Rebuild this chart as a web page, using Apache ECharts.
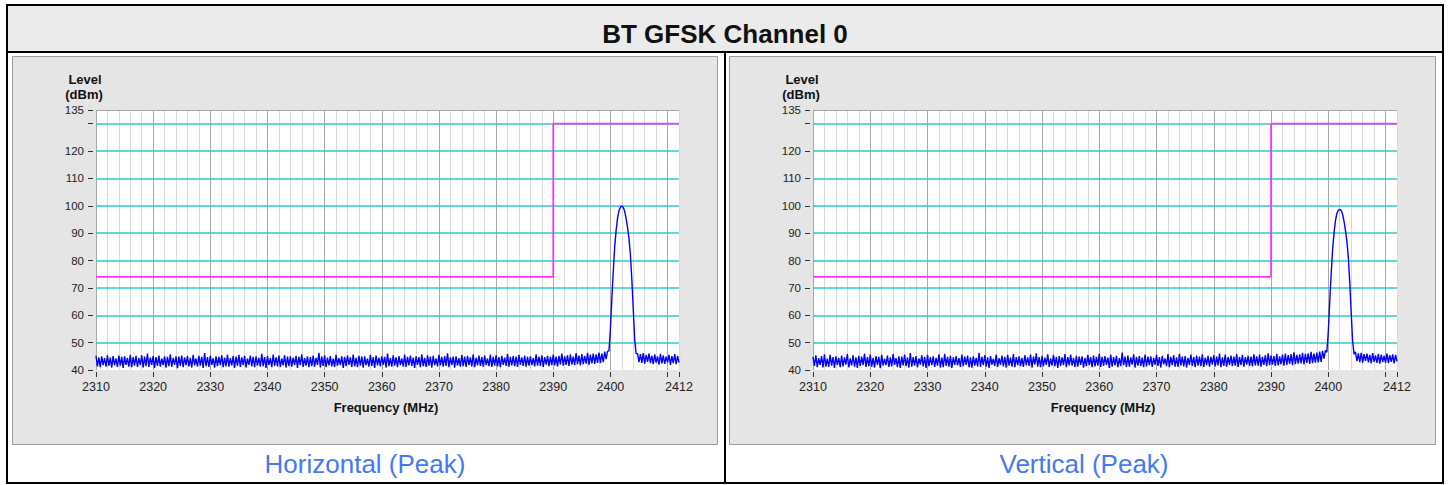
<!DOCTYPE html>
<html>
<head>
<meta charset="utf-8">
<script src="https://cdn.jsdelivr.net/npm/echarts@6/dist/echarts.min.js"></script>
<style>
html,body{margin:0;padding:0;background:#fff;}
#chart{width:1451px;height:485px;}
</style>
</head>
<body>
<div id="chart"></div>
<script>
// ---------- DATA ----------
const titleText = 'BT GFSK Channel 0';
const captions = ['Horizontal (Peak)', 'Vertical (Peak)'];
const yAxisTitle = ['Level', '(dBm)'];
const xAxisTitle = 'Frequency (MHz)';
const freqStart = 2310;      // MHz, sweep start
const freqStep = 0.25;       // MHz, sweep step
const xMin = 2310, xMax = 2412, xMajor = 10, xMinor = 2;
const yMin = 40, yMax = 135, yStep = 10;

// limit line (dBm)
const limitFreq = [2310, 2390, 2390, 2412];
const limitLevel = [74, 74, 130, 130];

// Horizontal trace: noise 2310.00-2399.50, peak 2399.75-2404.50, noise 2404.75-2412.00
const hNoiseLow = [
45.2,41.3,44.6,41.0,45.0,41.8,44.3,41.2,45.4,41.5,
44.5,40.9,45.1,41.7,44.2,41.1,45.3,41.6,44.8,40.8,
45.0,41.9,44.4,41.2,45.5,41.0,44.7,41.6,45.2,41.1,
44.3,41.8,45.4,40.9,44.9,41.4,46.0,41.1,44.5,41.9,
45.1,40.8,44.7,41.5,45.3,41.2,44.2,41.8,45.0,40.9,
44.8,41.4,45.7,41.1,44.4,41.9,45.0,40.7,44.9,41.5,
45.3,41.0,44.6,41.8,45.1,41.3,44.4,40.9,45.5,41.7,
44.2,41.2,45.2,41.6,44.8,40.8,46.2,41.4,44.7,41.1,
45.2,41.9,44.3,40.9,45.0,41.4,44.8,41.8,45.4,41.0,
44.5,41.3,45.6,41.2,44.3,41.7,45.1,40.8,44.9,41.5,
45.5,41.1,44.6,41.8,45.2,40.9,44.2,41.9,45.3,41.3,
44.8,41.0,45.0,41.6,44.4,41.2,45.9,41.4,44.7,40.8,
45.1,41.9,44.3,41.0,45.6,41.5,44.6,41.3,45.3,41.1,
44.2,41.7,45.4,40.9,44.9,41.4,45.0,41.2,44.5,41.8,
45.2,40.8,44.8,41.8,45.7,41.1,44.3,41.6,45.0,41.0,
44.7,41.4,45.3,41.2,44.4,41.9,46.3,40.9,44.9,41.5,
45.4,41.0,44.5,41.7,45.1,41.3,44.2,41.1,45.5,41.6,
44.3,41.8,45.0,40.8,44.8,41.4,45.3,41.9,44.6,41.1,
45.6,41.3,44.4,41.0,45.2,41.6,44.9,40.9,45.0,41.8,
44.2,41.2,45.5,41.5,44.7,40.8,45.3,41.7,44.5,41.3,
45.0,41.9,44.8,40.9,46.0,41.4,44.3,41.2,45.4,41.6,
44.6,41.0,45.1,41.8,44.2,41.3,45.6,41.1,44.8,41.7,
45.3,41.5,44.5,40.8,45.0,41.9,44.7,41.0,45.7,41.4,
44.4,41.1,45.4,41.6,44.9,40.9,45.2,41.8,44.2,41.3,
45.5,41.7,44.8,41.2,45.1,41.5,46.1,41.0,44.6,41.9,
44.9,40.9,45.0,41.6,44.3,41.2,45.5,41.4,44.9,41.1,
45.2,41.8,44.6,41.3,45.7,41.0,44.4,41.7,45.3,41.5,
44.7,41.2,45.3,41.8,44.2,41.4,45.6,41.1,44.8,41.6,
45.4,41.3,44.7,41.0,45.2,41.9,44.5,41.5,45.9,41.2,
44.8,41.7,45.1,41.4,44.9,41.1,45.5,41.9,44.6,41.5,
45.3,41.2,44.8,41.6,45.0,41.8,44.3,41.3,45.7,41.6,
44.9,41.5,45.4,41.1,44.7,42.0,45.2,41.4,44.8,41.8,
45.6,41.7,44.9,41.3,45.2,42.0,46.0,41.6,45.0,41.9,
45.4,41.5,45.7,42.0,44.9,41.8,46.2,42.1,45.3,41.7,
45.8,42.1,45.2,42.3,46.3,41.9,45.6,42.4,46.0,42.2,
45.7,42.6,46.4,42.5,46.0,42.9,46.7,44.0,46.8
];
const hPeak = [47,55,66,76,85,91,95.5,98.2,99.5,99.9,99.4,98.0,95.3,92,88,82,73,62,51,46];
const hNoiseHigh = [
46.0,42.9,45.8,42.6,46.2,42.3,45.5,43.0,46.0,42.5,
45.2,42.1,45.7,42.7,45.0,42.0,45.9,42.4,45.3,42.2,
44.9,42.8,45.5,41.9,45.1,42.5,45.8,42.1,45.2,42.7
];

// Vertical trace
const vNoiseLow = [
44.8,41.5,45.4,41.0,44.3,41.9,45.1,40.9,45.7,41.2,
44.2,41.1,45.5,41.6,44.7,40.8,45.0,41.9,44.4,41.0,
45.3,41.3,44.6,42.0,45.8,41.0,44.2,41.7,45.4,41.2,
44.6,40.8,45.2,41.5,44.9,41.8,46.0,41.1,44.7,41.4,
45.6,41.2,44.4,40.9,45.1,41.9,44.8,40.7,45.5,41.6,
44.1,41.8,45.3,41.1,44.6,41.3,45.8,41.9,44.3,41.0,
45.0,40.8,44.9,41.7,45.6,41.4,44.5,40.9,46.2,41.2,
44.7,41.6,45.1,41.0,44.2,42.0,45.4,41.3,44.8,40.8,
45.5,41.4,44.7,41.8,45.0,41.1,44.4,41.6,45.7,40.9,
44.5,41.0,45.9,41.5,44.8,41.2,45.2,40.8,44.6,41.9,
45.1,41.7,44.3,41.1,45.6,41.4,44.9,41.9,45.3,41.0,
44.6,40.9,45.0,41.6,44.4,41.3,46.3,41.1,44.8,41.8,
45.4,41.2,44.6,40.8,45.1,42.0,44.1,41.5,45.6,41.1,
44.3,41.9,45.3,41.3,44.8,40.9,45.5,41.6,44.5,41.2,
45.8,41.0,44.7,41.8,45.0,41.4,44.4,41.1,45.4,41.7,
44.6,41.5,45.6,40.9,44.9,42.0,46.1,41.2,44.7,41.0,
45.2,41.3,44.5,41.9,45.7,41.1,44.2,41.6,45.5,41.4,
44.8,40.8,45.1,41.5,44.6,41.8,45.8,41.0,44.7,41.7,
45.6,41.6,44.4,41.1,45.2,41.2,44.9,41.9,45.0,40.9,
44.4,41.4,45.5,41.8,44.7,41.0,45.3,41.3,44.8,41.6,
45.9,41.1,44.8,41.5,45.1,41.9,44.5,40.8,45.6,41.2,
44.7,41.7,45.2,41.0,44.3,41.4,46.4,41.8,44.9,41.1,
45.3,41.2,44.6,42.0,45.7,40.9,44.8,41.6,45.1,41.5,
44.5,41.0,45.6,41.3,44.9,41.8,45.0,41.1,44.4,41.9,
45.5,41.5,44.7,40.9,45.2,42.1,44.2,41.4,45.8,41.0,
44.8,41.8,45.4,41.2,44.6,41.1,45.9,41.7,44.9,41.3,
45.1,40.9,44.4,41.9,45.6,41.5,44.7,41.0,45.3,41.6,
44.9,41.4,45.7,41.1,44.5,41.8,45.2,41.2,44.8,42.0,
45.4,41.3,44.9,41.7,46.0,41.0,44.6,41.5,45.6,41.2,
44.7,41.9,45.3,41.4,44.9,41.6,45.8,41.1,44.8,41.8,
45.5,41.2,44.7,42.0,45.2,41.5,44.9,41.3,45.7,41.7,
45.0,41.6,45.6,41.2,44.8,41.9,45.4,41.4,46.1,41.8,
45.3,42.0,45.1,41.5,45.9,41.7,45.0,42.1,45.6,41.6,
46.0,41.9,45.4,42.2,45.8,41.8,46.5,42.1,45.5,42.3,
45.7,42.4,46.3,42.0,45.9,42.6,46.1,42.2,46.6,42.5,
46.0,42.7,46.4,42.8,46.7,43.0,47.0,44.2,47.2
];
const vPeak = [46.5,54,65,75,84,90,94.5,97.2,98.4,98.7,98.3,96.9,94.3,91,87,81,72,61,50.5,45.8];
const vNoiseHigh = [
46.6,43.2,46.1,42.9,46.3,42.7,45.8,43.3,46.0,42.8,
45.5,42.4,46.2,43.0,45.3,42.6,45.9,42.3,45.6,42.9,
45.2,42.7,46.0,42.5,45.4,43.0,45.7,42.4,45.5,43.1
];

// ---------- BUILD ----------
const FONT = '"Liberation Sans", Arial, Helvetica, sans-serif';
function toPairs(levels) {
  return levels.map((v, i) => [freqStart + i * freqStep, v]);
}
const traces = [
  toPairs(hNoiseLow.concat(hPeak, hNoiseHigh)),
  toPairs(vNoiseLow.concat(vPeak, vNoiseHigh))
];
const limitData = limitFreq.map((f, i) => [f, limitLevel[i]]);

const grids = [
  {left: 96, top: 110, width: 583, height: 260},
  {left: 813, top: 110, width: 584, height: 260}
];
const panelRects = [
  {x: 12.5, y: 56.5, w: 705, h: 388},
  {x: 729.5, y: 56.5, w: 706, h: 388}
];

const xAxes = [], yAxes = [], series = [], graphics = [];
grids.forEach((g, gi) => {
  xAxes.push({
    type: 'value', gridIndex: gi, min: xMin, max: xMax, interval: xMajor,
    position: 'bottom', offset: 2, z: 1,
    axisLine: {show: false},
    axisTick: {show: true, length: 5, lineStyle: {color: '#333', width: 1}},
    axisLabel: {
      show: true, margin: 8, fontSize: 12.5, color: '#222', fontFamily: FONT,
      showMinLabel: true, showMaxLabel: true,
      formatter: v => (v === 2410 ? '' : String(v))
    },
    splitLine: {show: true, showMinLine: true, showMaxLine: false,
      lineStyle: {color: '#a9a9a9', width: 1}}
  });
  xAxes.push({
    type: 'value', gridIndex: gi, min: xMin, max: xMax, interval: xMinor,
    position: 'top', z: 0,
    axisLine: {show: false}, axisTick: {show: false}, axisLabel: {show: false},
    splitLine: {show: true, showMinLine: false, showMaxLine: true,
      lineStyle: {color: '#dadada', width: 1}}
  });
  yAxes.push({
    type: 'value', gridIndex: gi, min: yMin, max: yMax, interval: yStep,
    position: 'left', offset: 3, z: 2,
    axisLine: {show: false},
    axisTick: {show: true, length: 5, lineStyle: {color: '#333', width: 1}},
    axisLabel: {
      show: true, margin: 9, fontSize: 11.5, color: '#222', fontFamily: FONT,
      showMinLabel: true, showMaxLabel: true,
      formatter: v => (v === 130 ? '' : String(v))
    },
    splitLine: {show: true, showMinLine: false, showMaxLine: false,
      lineStyle: {color: '#2ccaca', width: 1.5}}
  });
  series.push({
    type: 'line', xAxisIndex: gi * 2, yAxisIndex: gi, data: limitData,
    symbol: 'none', z: 3, silent: true, animation: false,
    lineStyle: {color: '#ff33ff', width: 1.8},
    markLine: {
      silent: true, symbol: 'none', label: {show: false}, animation: false,
      lineStyle: {color: '#a6a6a6', type: 'solid', width: 1},
      data: [{yAxis: yMax}]
    }
  });
  series.push({
    type: 'line', xAxisIndex: gi * 2, yAxisIndex: gi, data: traces[gi],
    symbol: 'none', z: 4, silent: true, animation: false, sampling: null,
    lineStyle: {color: '#0000ff', width: 1.4}
  });

  const p = panelRects[gi];
  graphics.push({type: 'rect', z: -10, silent: true,
    shape: {x: p.x, y: p.y, width: p.w, height: p.h},
    style: {fill: '#e5e5e5', stroke: '#9c9c9c', lineWidth: 1}});
  const dx = gi === 0 ? 0 : 717;
  graphics.push({type: 'text', z: 10, x: 85 + dx, y: 79, silent: true,
    style: {text: yAxisTitle[0], fontSize: 13, fontWeight: 'bold', fontFamily: FONT,
      fill: '#111', align: 'center', verticalAlign: 'middle'}});
  graphics.push({type: 'text', z: 10, x: 84 + dx, y: 94, silent: true,
    style: {text: yAxisTitle[1], fontSize: 13, fontWeight: 'bold', fontFamily: FONT,
      fill: '#111', align: 'center', verticalAlign: 'middle'}});
  graphics.push({type: 'text', z: 10, x: 386 + dx, y: 407, silent: true,
    style: {text: xAxisTitle, fontSize: 13, fontWeight: 'bold', fontFamily: FONT,
      fill: '#111', align: 'center', verticalAlign: 'middle'}});
  graphics.push({type: 'text', z: 10, x: gi === 0 ? 365 : 1084, y: 464, silent: true,
    style: {text: captions[gi], fontSize: 26, fontFamily: FONT,
      fill: '#4479f0', align: 'center', verticalAlign: 'middle'}});
});

// frame
graphics.push({type: 'rect', z: -11, silent: true,
  shape: {x: 8, y: 6, width: 1434, height: 45}, style: {fill: '#ebebeb'}});
[
  [6, 4, 1438, 2], [6, 482, 1438, 2], [6, 4, 2, 480], [1442, 4, 2, 480],
  [6, 51, 1438, 2], [724, 51, 2, 433]
].forEach(r => graphics.push({type: 'rect', z: 20, silent: true,
  shape: {x: r[0], y: r[1], width: r[2], height: r[3]}, style: {fill: '#000'}}));
graphics.push({type: 'text', z: 10, x: 725, y: 34, silent: true,
  style: {text: titleText, fontSize: 26, fontWeight: 'bold', fontFamily: FONT,
    fill: '#111', align: 'center', verticalAlign: 'middle'}});

const chart = echarts.init(document.getElementById('chart'), null, {renderer: 'svg', width: 1451, height: 485});
chart.setOption({
  backgroundColor: '#ffffff',
  animation: false,
  grid: grids.map(g => Object.assign({show: true, backgroundColor: '#ffffff', borderWidth: 0, containLabel: false}, g)),
  xAxis: xAxes,
  yAxis: yAxes,
  series: series,
  graphic: graphics
});
</script>
</body>
</html>
